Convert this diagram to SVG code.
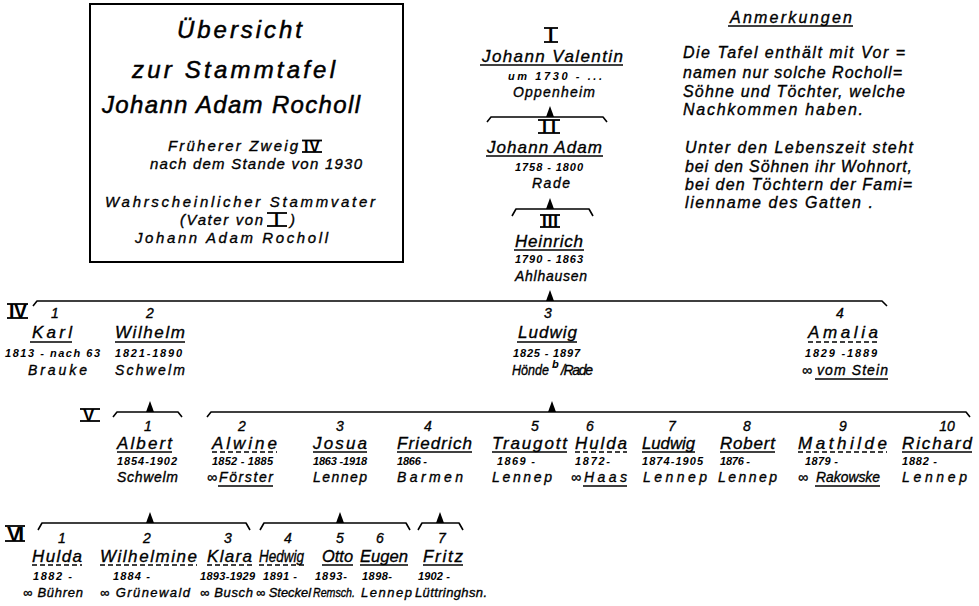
<svg xmlns="http://www.w3.org/2000/svg" xmlns:xlink="http://www.w3.org/1999/xlink" width="979" height="606" viewBox="0 0 979 606">
<style>
text{font-family:"Liberation Sans",Arial,sans-serif;font-style:italic;fill:#000}
.tt,.sb,.nt,.nm,.nb,.pl,.pl6,.num{stroke:#000;stroke-width:0.35}
.tt{font-size:24px;stroke-width:0.5}
.sb{font-size:15px}
.nt{font-size:16px}
.nm{font-size:17px}
.nb{font-size:17px}
.num{font-size:14px;text-anchor:middle}
.yr{font-size:11px;font-weight:bold}
.pl{font-size:14px}
.pl6{font-size:13px}
.rn{font-style:normal;font-weight:bold}
.ul{stroke:#000;stroke-width:1.5;fill:none}
.dl{stroke:#000;stroke-width:1.5;fill:none;stroke-dasharray:5 3}
.br{stroke:#000;stroke-width:1.6;fill:none;stroke-linejoin:round}
.bar{stroke:#000;stroke-width:1.8}
</style>
<defs>
<path id="tri" d="M-4,0 L0,-11 L4,0 Z" fill="#000"/>
</defs>
<rect width="979" height="606" fill="#fff"/>

<g id="titlebox">
<rect x="90" y="4" width="313" height="258" fill="none" stroke="#000" stroke-width="2"/>
<text class="tt" x="177" y="38" textLength="125">Übersicht</text>
<text class="tt" x="132" y="78" textLength="203">zur Stammtafel</text>
<text class="tt" x="102" y="113" textLength="258">Johann Adam Rocholl</text>
<text class="sb" x="168" y="151" textLength="130">Früherer Zweig</text>
<text class="rn" x="304" y="152" textLength="16" font-size="16">IV</text>
<line class="bar" x1="302" y1="140.5" x2="322" y2="140.5"/><line class="bar" x1="302" y1="152" x2="322" y2="152"/>
<text class="sb" x="150" y="169" textLength="212">nach dem Stande von 1930</text>
<text class="sb" x="105" y="207" textLength="270">Wahrscheinlicher Stammvater</text>
<text class="sb" x="180" y="225" textLength="83">(Vater von</text>
<text class="rn" x="274" y="226" font-size="18">I</text>
<line class="bar" x1="267" y1="213" x2="287" y2="213"/><line class="bar" x1="267" y1="226" x2="287" y2="226"/>
<text class="sb" x="290" y="225">)</text>
<text class="sb" x="135" y="243" textLength="193">Johann Adam  Rocholl</text>
</g>

<g id="notes">
<text class="nt" x="730" y="23" textLength="122">Anmerkungen</text>
<line class="ul" x1="728" y1="26" x2="853" y2="26"/>
<text class="nt" x="683" y="58" textLength="222">Die Tafel enthält mit Vor =</text>
<text class="nt" x="683" y="78" textLength="219">namen nur solche Rocholl=</text>
<text class="nt" x="683" y="97" textLength="222">Söhne und Töchter, welche</text>
<text class="nt" x="683" y="115" textLength="180">Nachkommen haben.</text>
<text class="nt" x="685" y="153" textLength="228">Unter den Lebenszeit steht</text>
<text class="nt" x="685" y="172" textLength="227">bei den Söhnen ihr Wohnort,</text>
<text class="nt" x="685" y="190" textLength="227">bei den Töchtern der Fami=</text>
<text class="nt" x="685" y="208" textLength="188">lienname des Gatten .</text>
</g>

<g id="generations">
<text class="rn" x="548" y="42" font-size="19.5">I</text>
<line class="bar" x1="544" y1="28" x2="558" y2="28"/><line class="bar" x1="544" y1="42" x2="558" y2="42"/>
<text class="rn" x="542" y="133" textLength="14" font-size="18">II</text>
<line class="bar" x1="538" y1="120" x2="560" y2="120"/><line class="bar" x1="538" y1="133" x2="560" y2="133"/>
<text class="rn" x="542" y="227" textLength="16" font-size="17">III</text>
<line class="bar" x1="540" y1="215" x2="560" y2="215"/><line class="bar" x1="540" y1="227" x2="560" y2="227"/>
<text class="rn" x="9" y="318" textLength="18" font-size="19.5">IV</text>
<line class="bar" x1="7" y1="304" x2="28" y2="304"/><line class="bar" x1="7" y1="318" x2="28" y2="318"/>
<text class="rn" x="83" y="421" textLength="14" font-size="17">V</text>
<line class="bar" x1="80" y1="409" x2="100" y2="409"/><line class="bar" x1="80" y1="421" x2="100" y2="421"/>
<text class="rn" x="7" y="541" textLength="17" font-size="21">VI</text>
<line class="bar" x1="5" y1="526" x2="25" y2="526"/><line class="bar" x1="5" y1="541" x2="25" y2="541"/>
</g>

<g id="connectors">
<path class="br" d="M487,122 L491,117 L603,117 L607,122"/>
<path class="br" d="M512,216 L516,209 L589,209 L593,216"/>
<path class="br" d="M33,306 L37,301 L882,301 L887,306"/>
<path class="br" d="M113,417 L117,412 L178,412 L182,417"/>
<path class="br" d="M207,417 L211,412 L966,412 L970,417"/>
<path class="br" d="M38,530 L42,523 L246,523 L250,530"/>
<path class="br" d="M260,530 L264,523 L406,523 L410,530"/>
<path class="br" d="M418,530 L422,523 L459,523 L463,530"/>
<use xlink:href="#tri" x="550" y="117"/>
<use xlink:href="#tri" x="550" y="209"/>
<use xlink:href="#tri" x="550" y="301"/>
<use xlink:href="#tri" x="150" y="412"/>
<use xlink:href="#tri" x="552" y="412"/>
<use xlink:href="#tri" x="150" y="523"/>
<use xlink:href="#tri" x="340" y="523"/>
<use xlink:href="#tri" x="440" y="523"/>
</g>

<g id="johann-valentin">
<text class="nb" x="482" y="62" textLength="141">Johann Valentin</text>
<line class="ul" x1="480" y1="65" x2="623" y2="65"/>
<text class="yr" x="508" y="80" textLength="94">um 1730 - ...</text>
<text class="pl" x="513" y="97" textLength="82">Oppenheim</text>
</g>
<g id="johann-adam">
<text class="nb" x="487" y="153" textLength="115">Johann Adam</text>
<line class="ul" x1="486" y1="156" x2="603" y2="156"/>
<text class="yr" x="515" y="171" textLength="68">1758 - 1800</text>
<text class="pl" x="532" y="188" textLength="38">Rade</text>
</g>
<g id="heinrich">
<text class="nb" x="515" y="247" textLength="68">Heinrich</text>
<line class="ul" x1="514" y1="250" x2="584" y2="250"/>
<text class="yr" x="515" y="263" textLength="68">1790 - 1863</text>
<text class="pl" x="515" y="281" textLength="72">Ahlhausen</text>
</g>

<g id="karl">
<text class="num" x="55" y="318">1</text>
<text class="nm" x="32" y="338" textLength="40">Karl</text>
<line class="ul" x1="30" y1="342" x2="72" y2="342"/>
<text class="yr" x="5" y="357" textLength="95">1813 - nach 63</text>
<text class="pl" x="28" y="375" textLength="59">Brauke</text>
</g>
<g id="wilhelm">
<text class="num" x="150" y="318">2</text>
<text class="nm" x="115" y="338" textLength="70">Wilhelm</text>
<line class="ul" x1="115" y1="342" x2="185" y2="342"/>
<text class="yr" x="115" y="357" textLength="67">1821-1890</text>
<text class="pl" x="115" y="375" textLength="70">Schwelm</text>
</g>
<g id="ludwig">
<text class="num" x="548" y="318">3</text>
<text class="nm" x="518" y="338" textLength="59">Ludwig</text>
<line class="ul" x1="517" y1="342" x2="577" y2="342"/>
<text class="yr" x="513" y="357" textLength="67">1825 - 1897</text>
<text class="pl" x="512" y="375" textLength="37" lengthAdjust="spacingAndGlyphs">Hönde</text>
<text class="yr" x="552" y="368" font-size="7" textLength="5">b.</text>
<text class="pl" x="561" y="375" textLength="32" font-size="12">/Rade</text>
</g>
<g id="amalia">
<text class="num" x="840" y="318">4</text>
<text class="nm" x="808" y="338" textLength="70">Amalia</text>
<line class="dl" x1="808" y1="342" x2="878" y2="342"/>
<text class="yr" x="805" y="357" textLength="72">1829 -1889</text>
<text class="pl" x="802" y="375" font-size="12">∞</text>
<text class="pl" x="817" y="375" textLength="71">vom Stein</text>
<line class="ul" x1="815" y1="379" x2="888" y2="379"/>
</g>

<g id="albert">
<text class="num" x="148" y="431">1</text>
<text class="nm" x="117" y="449" textLength="55">Albert</text>
<line class="ul" x1="117" y1="452" x2="172" y2="452"/>
<text class="yr" x="117" y="465" textLength="60">1854-1902</text>
<text class="pl" x="117" y="482" textLength="61">Schwelm</text>
</g>
<g id="alwine">
<text class="num" x="242" y="431">2</text>
<text class="nm" x="212" y="449" textLength="65">Alwine</text>
<line class="dl" x1="212" y1="452" x2="277" y2="452"/>
<text class="yr" x="212" y="465" textLength="61">1852 - 1885</text>
<text class="pl" x="207" y="482" font-size="12">∞</text>
<text class="pl" x="219" y="482" textLength="54">Förster</text>
<line class="ul" x1="218" y1="486" x2="273" y2="486"/>
</g>
<g id="josua">
<text class="num" x="340" y="431">3</text>
<text class="nm" x="313" y="449" textLength="54">Josua</text>
<line class="ul" x1="313" y1="452" x2="367" y2="452"/>
<text class="yr" x="313" y="465" textLength="54">1863 -1918</text>
<text class="pl" x="313" y="482" textLength="54">Lennep</text>
</g>
<g id="friedrich">
<text class="num" x="428" y="431">4</text>
<text class="nm" x="397" y="449" textLength="75">Friedrich</text>
<line class="ul" x1="397" y1="452" x2="472" y2="452"/>
<text class="yr" x="397" y="465" textLength="30">1866 -</text>
<text class="pl" x="397" y="482" textLength="66">Barmen</text>
</g>
<g id="traugott">
<text class="num" x="535" y="431">5</text>
<text class="nm" x="492" y="449" textLength="75">Traugott</text>
<line class="ul" x1="492" y1="452" x2="567" y2="452"/>
<text class="yr" x="497" y="465" textLength="38">1869 -</text>
<text class="pl" x="492" y="482" textLength="60">Lennep</text>
</g>
<g id="hulda-v">
<text class="num" x="590" y="431">6</text>
<text class="nm" x="575" y="449" textLength="52">Hulda</text>
<line class="dl" x1="575" y1="452" x2="627" y2="452"/>
<text class="yr" x="575" y="465" textLength="35">1872-</text>
<text class="pl" x="571" y="482" font-size="12">∞</text>
<text class="pl" x="584" y="482" textLength="43">Haas</text>
<line class="ul" x1="583" y1="486" x2="627" y2="486"/>
</g>
<g id="ludwig-v">
<text class="num" x="672" y="431">7</text>
<text class="nm" x="642" y="449" textLength="53" lengthAdjust="spacingAndGlyphs">Ludwig</text>
<line class="ul" x1="642" y1="452" x2="695" y2="452"/>
<text class="yr" x="642" y="465" textLength="61">1874-1905</text>
<text class="pl" x="643" y="482" textLength="64">Lennep</text>
</g>
<g id="robert">
<text class="num" x="747" y="431">8</text>
<text class="nm" x="720" y="449" textLength="55">Robert</text>
<line class="ul" x1="720" y1="452" x2="775" y2="452"/>
<text class="yr" x="720" y="465" textLength="30">1876 -</text>
<text class="pl" x="718" y="482" textLength="59">Lennep</text>
</g>
<g id="mathilde">
<text class="num" x="843" y="431">9</text>
<text class="nm" x="798" y="449" textLength="89">Mathilde</text>
<line class="dl" x1="798" y1="452" x2="887" y2="452"/>
<text class="yr" x="805" y="465" textLength="33">1879 -</text>
<text class="pl" x="798" y="482" font-size="12">∞</text>
<text class="pl" x="816" y="482" textLength="64" lengthAdjust="spacingAndGlyphs">Rakowske</text>
<line class="ul" x1="815" y1="486" x2="880" y2="486"/>
</g>
<g id="richard">
<text class="num" x="947" y="431">10</text>
<text class="nm" x="902" y="449" textLength="70">Richard</text>
<line class="ul" x1="902" y1="452" x2="972" y2="452"/>
<text class="yr" x="902" y="465" textLength="35">1882 -</text>
<text class="pl" x="902" y="482" textLength="65">Lennep</text>
</g>

<g id="hulda-vi">
<text class="num" x="62" y="543">1</text>
<text class="nm" x="32" y="562" textLength="50">Hulda</text>
<line class="dl" x1="32" y1="565" x2="82" y2="565"/>
<text class="yr" x="33" y="580" textLength="39">1882 -</text>
<text class="pl6" x="23" y="597" textLength="60">∞ Bühren</text>
</g>
<g id="wilhelmine">
<text class="num" x="147" y="543">2</text>
<text class="nm" x="100" y="562" textLength="97">Wilhelmine</text>
<line class="dl" x1="100" y1="565" x2="197" y2="565"/>
<text class="yr" x="113" y="580" textLength="37">1884 -</text>
<text class="pl6" x="100" y="597" textLength="90">∞ Grünewald</text>
</g>
<g id="klara">
<text class="num" x="228" y="543">3</text>
<text class="nm" x="207" y="562" textLength="45">Klara</text>
<line class="dl" x1="207" y1="565" x2="252" y2="565"/>
<text class="yr" x="200" y="580" textLength="55">1893-1929</text>
<text class="pl6" x="200" y="597" textLength="53">∞ Busch</text>
</g>
<g id="hedwig">
<text class="num" x="288" y="543">4</text>
<text class="nm" x="259" y="562" textLength="45" lengthAdjust="spacingAndGlyphs">Hedwig</text>
<line class="dl" x1="259" y1="565" x2="304" y2="565"/>
<text class="yr" x="263" y="580" textLength="34">1891 -</text>
<text class="pl6" x="256" y="597" textLength="55" lengthAdjust="spacingAndGlyphs">∞ Steckel</text>
</g>
<g id="otto">
<text class="num" x="340" y="543">5</text>
<text class="nm" x="322" y="562" textLength="31" lengthAdjust="spacingAndGlyphs">Otto</text>
<line class="ul" x1="322" y1="565" x2="353" y2="565"/>
<text class="yr" x="315" y="580" textLength="32">1893-</text>
<text class="pl6" x="313" y="597" textLength="42" lengthAdjust="spacingAndGlyphs">Remsch.</text>
</g>
<g id="eugen">
<text class="num" x="380" y="543">6</text>
<text class="nm" x="360" y="562" textLength="48" lengthAdjust="spacingAndGlyphs">Eugen</text>
<line class="ul" x1="360" y1="565" x2="408" y2="565"/>
<text class="yr" x="362" y="580" textLength="30">1898-</text>
<text class="pl6" x="361" y="597" textLength="51">Lennep</text>
</g>
<g id="fritz">
<text class="num" x="442" y="543">7</text>
<text class="nm" x="423" y="562" textLength="40">Fritz</text>
<line class="ul" x1="423" y1="565" x2="463" y2="565"/>
<text class="yr" x="418" y="580" textLength="32">1902 -</text>
<text class="pl6" x="415" y="597" textLength="72">Lüttringhsn.</text>
</g>
</svg>
